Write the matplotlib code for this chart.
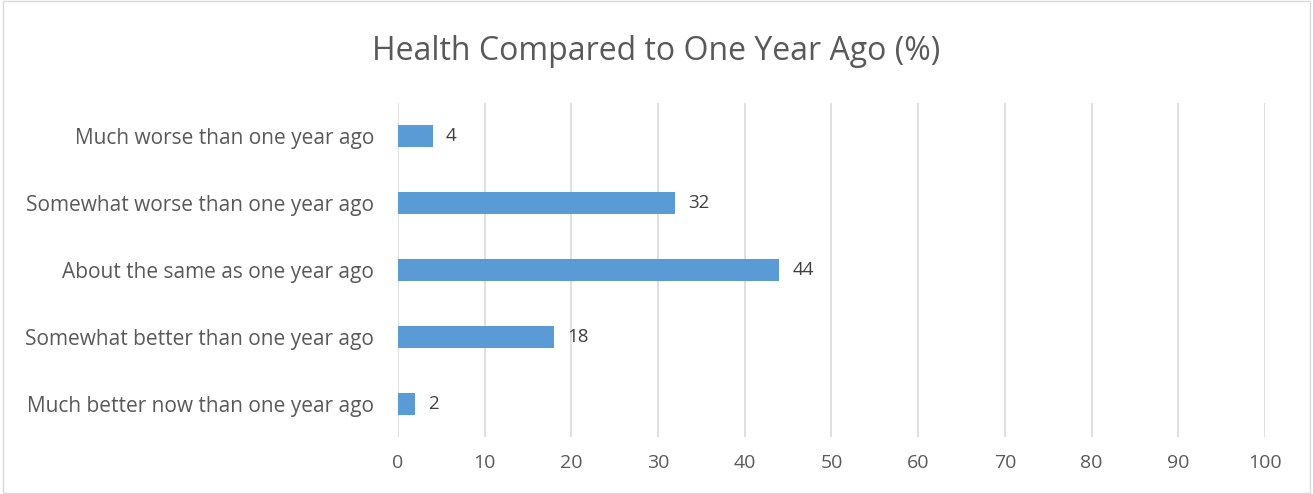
import matplotlib.pyplot as plt
from matplotlib.patches import Rectangle

categories = [
    "Much better now than one year ago",
    "Somewhat better than one year ago",
    "About the same as one year ago",
    "Somewhat worse than one year ago",
    "Much worse than one year ago",
]
values = [2, 18, 44, 32, 4]
xticks = list(range(0, 101, 10))

plt.rcParams["font.family"] = ["Open Sans", "DejaVu Sans"]
text_color = "#595959"

fig = plt.figure(figsize=(13.13, 4.94), dpi=100)
ax = fig.add_axes([0.303, 0.1154, 0.6605, 0.6761])

ax.barh(range(len(categories)), values, height=0.33, color="#5B9BD5", zorder=3)
for i, v in enumerate(values):
    ax.text(v + 1.5, i, f"{v}", va="center", ha="left", fontsize=13.5, color="#404040")

ax.set_xlim(0, 100)
ax.set_ylim(-0.5, len(categories) - 0.5)
ax.set_xticks(xticks)
ax.set_xticklabels([str(t) for t in xticks])
ax.set_yticks(range(len(categories)))
ax.set_yticklabels(categories)
ax.tick_params(axis="both", length=0, labelcolor=text_color)
ax.tick_params(axis="x", pad=12, labelsize=14)
ax.tick_params(axis="y", pad=17, labelsize=15)
ax.grid(axis="x", color="#D9D9D9", linewidth=1.2, zorder=0)
for s in ax.spines.values():
    s.set_visible(False)

fig.text(0.5, 0.895, "Health Compared to One Year Ago (%)", ha="center", va="center",
         fontsize=23, color=text_color)
fig.patches.append(Rectangle((0.002, 0.003), 0.996, 0.994, transform=fig.transFigure,
                             fill=False, edgecolor="#D9D9D9", linewidth=1))

fig.savefig("out.png", dpi=100)
